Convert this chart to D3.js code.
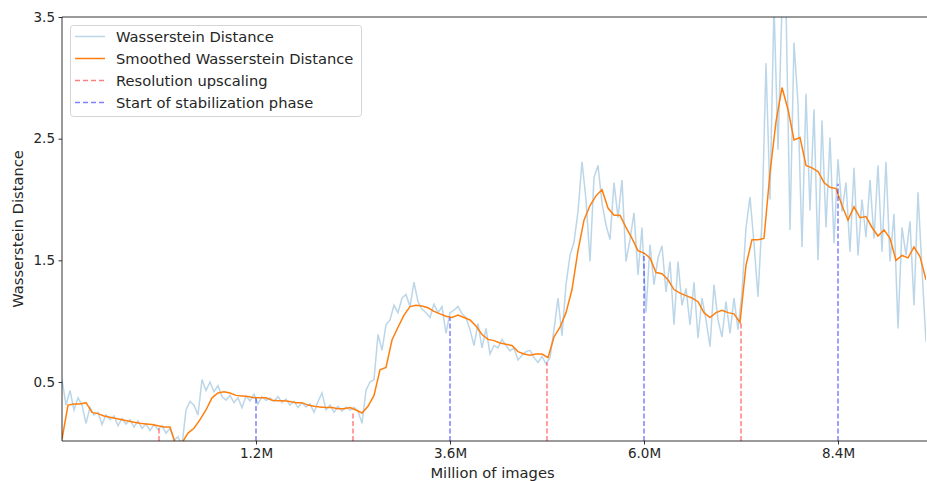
<!DOCTYPE html>
<html>
<head>
<meta charset="utf-8">
<script src="https://cdn.jsdelivr.net/npm/d3@7"></script>
<style>
  body { margin: 0; background: #fff; }
  text { font-family: "DejaVu Sans", sans-serif; fill: #262626; }
</style>
</head>
<body>
<div id="chart"></div>
<script>
// raw Wasserstein distance, evenly spaced along the run
const rawValues = [
  0.52,0.31,0.43,0.27,0.37,0.31,0.16,0.29,0.23,0.25,
  0.15,0.23,0.19,0.22,0.14,0.20,0.155,0.19,0.13,0.18,
  0.12,0.155,0.10,0.15,0.11,0.14,0.08,0.12,0.02,0.05,
  -0.02,0.27,0.34,0.31,0.23,0.52,0.43,0.50,0.42,0.47,
  0.38,0.35,0.39,0.33,0.37,0.29,0.385,0.345,0.40,0.32,
  0.38,0.35,0.37,0.34,0.38,0.33,0.36,0.31,0.34,0.29,
  0.33,0.295,0.32,0.25,0.34,0.41,0.27,0.31,0.25,0.30,
  0.26,0.295,0.27,0.29,0.26,0.16,0.43,0.50,0.52,0.89,
  0.76,0.97,1.01,1.13,1.07,1.19,1.22,1.12,1.32,1.16,
  1.10,1.07,1.03,1.14,1.07,1.12,0.90,1.07,1.09,1.12,
  1.06,1.03,0.93,0.80,0.98,0.78,0.94,0.73,0.80,0.78,
  0.85,0.80,0.755,0.78,0.68,0.72,0.75,0.76,0.70,0.66,
  0.71,0.65,0.70,0.93,1.19,0.88,1.30,1.54,1.65,1.90,
  2.31,2.00,1.49,2.18,2.28,1.97,1.79,1.67,2.14,1.85,
  2.16,1.49,1.67,1.89,1.38,1.77,1.07,1.63,1.30,1.52,
  1.62,1.24,1.49,0.97,1.49,1.13,1.27,0.97,1.32,0.86,
  1.19,1.01,0.79,1.30,1.01,0.87,1.16,0.90,1.19,0.93,
  1.24,1.77,2.02,1.64,1.20,1.83,3.12,2.00,3.6,2.41,
  3.6,3.6,1.75,3.29,2.79,1.61,2.87,1.91,2.74,1.50,
  2.65,1.77,2.51,1.64,2.33,1.90,2.14,1.57,2.26,1.54,
  2.00,1.69,2.16,1.68,2.28,1.57,2.31,1.49,1.88,0.94,
  1.77,1.54,1.82,1.13,2.06,1.42,0.83
];

// smoothed curve, evenly spaced along the run
const smoothValues = [
  0.03,0.31,0.32,0.32,0.33,0.25,0.24,0.22,0.21,0.20,
  0.19,0.18,0.17,0.16,0.155,0.15,0.14,0.13,0.13,-0.02,
  0.00,0.08,0.12,0.19,0.27,0.37,0.41,0.42,0.41,0.39,
  0.385,0.38,0.37,0.37,0.37,0.35,0.345,0.345,0.34,0.33,
  0.33,0.31,0.30,0.295,0.29,0.29,0.28,0.28,0.29,0.27,
  0.245,0.30,0.39,0.60,0.62,0.845,0.95,1.05,1.12,1.13,
  1.125,1.11,1.08,1.06,1.04,1.03,1.05,1.03,1.01,0.96,
  0.89,0.85,0.84,0.82,0.81,0.80,0.75,0.73,0.72,0.73,
  0.73,0.70,0.87,0.95,1.07,1.26,1.58,1.83,1.95,2.03,
  2.08,1.93,1.87,1.87,1.77,1.68,1.58,1.56,1.52,1.40,
  1.39,1.34,1.26,1.23,1.21,1.19,1.16,1.07,1.03,1.07,
  1.09,1.07,1.06,0.99,1.46,1.67,1.67,1.68,2.22,2.64,
  2.92,2.74,2.49,2.51,2.28,2.26,2.23,2.14,2.10,2.09,
  1.95,1.83,1.94,1.85,1.86,1.77,1.70,1.75,1.68,1.50,
  1.54,1.52,1.61,1.53,1.34
];

// x runs in phase units: one tick per phase
const xSpan = 4.4536;
const tickPos = [1, 2, 3, 4];
const tickLabels = ["1.2M", "3.6M", "6.0M", "8.4M"];
const yTicks = [0.5, 1.5, 2.5, 3.5];

// vertical markers (position, height of the curve there)
const upscaleX = [0.5, 1.5, 2.5, 3.5];
const upscaleY = [0.12, 0.25, 0.66, 0.985];
const stableX = [1, 2, 3, 4];
const stableY = [0.37, 1.03, 1.56, 2.13];

const legendItems = [
  { label: "Wasserstein Distance", color: "#1f77b4", opacity: 0.3, dash: null },
  { label: "Smoothed Wasserstein Distance", color: "#ff7f0e", opacity: 1, dash: null },
  { label: "Resolution upscaling", color: "red", opacity: 0.5, dash: "5,3" },
  { label: "Start of stabilization phase", color: "blue", opacity: 0.5, dash: "5,3" }
];

const width = 927, height = 481;
const margin = { top: 17, right: 1, bottom: 40, left: 62 };

const svg = d3.select("#chart").append("svg")
  .attr("width", width)
  .attr("height", height);

const x = d3.scaleLinear().domain([0, xSpan]).range([margin.left, width - margin.right]);
const y = d3.scaleLinear().domain([0.015, 3.5]).range([height - margin.bottom, margin.top]);

svg.append("clipPath").attr("id", "plot-clip")
  .append("rect")
  .attr("x", margin.left).attr("y", margin.top)
  .attr("width", width - margin.left - margin.right)
  .attr("height", height - margin.top - margin.bottom);

const toPoints = vals => vals.map((v, i) => ({ x: i * xSpan / (vals.length - 1), v: v }));
const line = d3.line().x(d => x(d.x)).y(d => y(d.v));

const plot = svg.append("g").attr("clip-path", "url(#plot-clip)");

plot.append("path")
  .datum(toPoints(rawValues))
  .attr("fill", "none")
  .attr("stroke", "#1f77b4")
  .attr("stroke-opacity", 0.3)
  .attr("stroke-width", 1.5)
  .attr("d", line);

plot.append("path")
  .datum(toPoints(smoothValues))
  .attr("fill", "none")
  .attr("stroke", "#ff7f0e")
  .attr("stroke-width", 1.5)
  .attr("d", line);

// dashed markers from the bottom up to the curve
function vlines(xs, ys, color) {
  plot.selectAll(null)
    .data(xs.map((d, i) => ({ x: d, v: ys[i] })))
    .enter().append("line")
    .attr("x1", d => x(d.x)).attr("x2", d => x(d.x))
    .attr("y1", y.range()[0]).attr("y2", d => y(d.v))
    .attr("stroke", color)
    .attr("stroke-opacity", 0.5)
    .attr("stroke-width", 1.5)
    .attr("stroke-dasharray", "5,2.5");
}
vlines(upscaleX, upscaleY, "red");
vlines(stableX, stableY, "blue");

// axes
const xAxis = d3.axisBottom(x)
  .tickValues(tickPos)
  .tickFormat((d, i) => tickLabels[i])
  .tickSize(3.5).tickPadding(3.5);
const yAxis = d3.axisLeft(y)
  .tickValues(yTicks)
  .tickFormat(d3.format(".1f"))
  .tickSize(3.5).tickPadding(3.5);

const gx = svg.append("g").attr("transform", `translate(0,${height - margin.bottom})`).call(xAxis);
const gy = svg.append("g").attr("transform", `translate(${margin.left},0)`).call(yAxis);
[gx, gy].forEach(g => {
  g.select(".domain").remove();
  g.selectAll("line").attr("stroke", "#000").attr("stroke-width", 0.8);
  g.selectAll("text").attr("font-size", "13.5px").attr("fill", "#262626");
});

// spines: left, bottom, top
svg.append("line")
  .attr("x1", margin.left).attr("x2", margin.left)
  .attr("y1", margin.top).attr("y2", height - margin.bottom)
  .attr("stroke", "#000").attr("stroke-width", 0.8);
svg.append("line")
  .attr("x1", margin.left).attr("x2", width)
  .attr("y1", height - margin.bottom).attr("y2", height - margin.bottom)
  .attr("stroke", "#000").attr("stroke-width", 0.8);
svg.append("line")
  .attr("x1", margin.left).attr("x2", width)
  .attr("y1", margin.top).attr("y2", margin.top)
  .attr("stroke", "#000").attr("stroke-width", 0.8);

// axis titles
svg.append("text")
  .attr("x", (margin.left + width) / 2 - 2)
  .attr("y", 478)
  .attr("text-anchor", "middle")
  .attr("font-size", "14.7px")
  .text("Million of images");
svg.append("text")
  .attr("transform", `translate(23,${(margin.top + height - margin.bottom) / 2}) rotate(-90)`)
  .attr("text-anchor", "middle")
  .attr("font-size", "14.7px")
  .text("Wasserstein Distance");

// legend
const lg = svg.append("g").attr("transform", "translate(70,25)");
lg.append("rect")
  .attr("x", 0.5).attr("y", 0.5)
  .attr("width", 291).attr("height", 91)
  .attr("rx", 3)
  .attr("fill", "#fff").attr("fill-opacity", 0.8)
  .attr("stroke", "#d5d5d5");
const rows = lg.selectAll("g.row").data(legendItems).enter().append("g")
  .attr("transform", (d, i) => `translate(0,${11.5 + i * 22})`);
rows.append("line")
  .attr("x1", 5).attr("x2", 35)
  .attr("stroke", d => d.color)
  .attr("stroke-opacity", d => d.opacity)
  .attr("stroke-width", 1.5)
  .attr("stroke-dasharray", d => d.dash);
rows.append("text")
  .attr("x", 46).attr("dy", "0.35em")
  .attr("font-size", "14.7px")
  .text(d => d.label);
</script>
</body>
</html>
